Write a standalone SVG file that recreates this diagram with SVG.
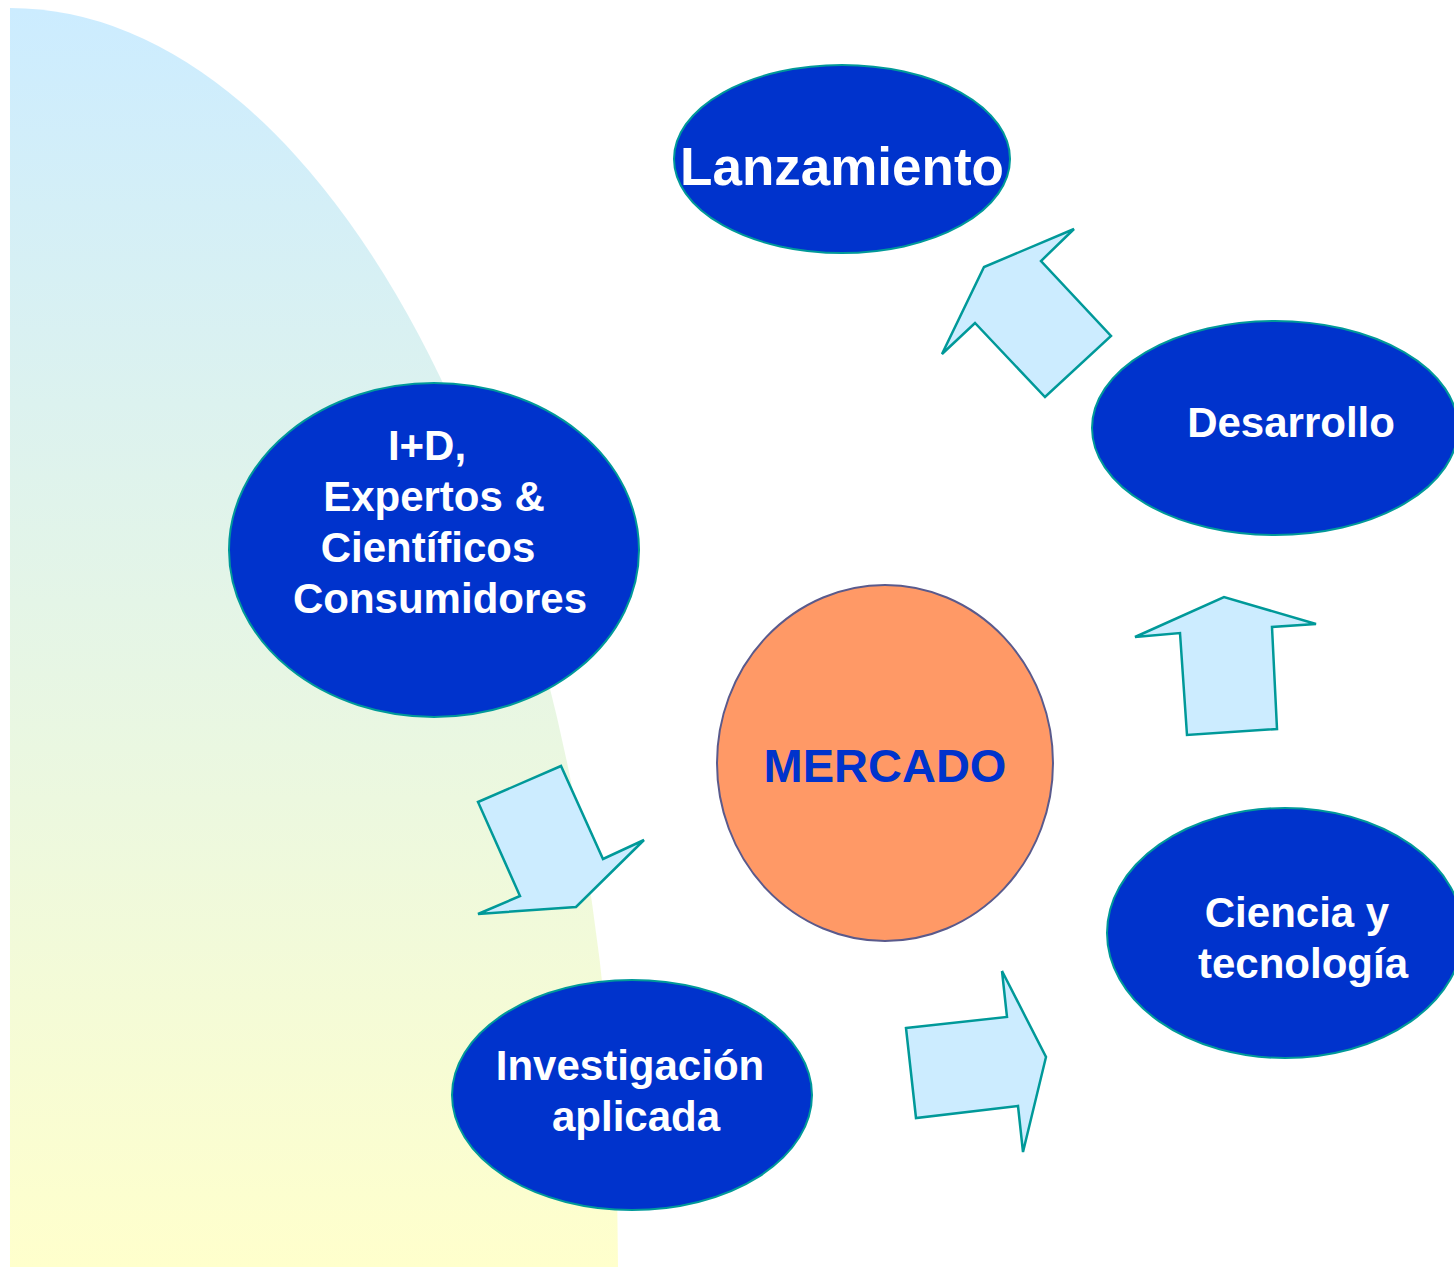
<svg xmlns="http://www.w3.org/2000/svg" width="1454" height="1267" viewBox="0 0 1454 1267">
<defs>
<linearGradient id="bg" x1="0" y1="0" x2="0" y2="1">
<stop offset="0" stop-color="#CCECFF"/>
<stop offset="1" stop-color="#FFFFCC"/>
</linearGradient>
<style>
.node{fill:#0033CC;stroke:#009999;stroke-width:2}
.lbl{font-family:"Liberation Sans",Arial,sans-serif;font-weight:bold;fill:#FFFFFF;text-anchor:middle}
.arrow{fill:#CCECFF;stroke:#009999;stroke-width:2.5;stroke-linejoin:miter}
</style>
</defs>
<rect width="1454" height="1267" fill="#FFFFFF"/>
<path d="M10,8 A608,1259 0 0 1 618,1267 L10,1267 Z" fill="url(#bg)"/>
<g id="connectors">
<polygon class="arrow" points="942,354 975,323 1045,397 1111,336 1041,261 1074,229 984,267"/>
<polygon class="arrow" points="1135,637 1180,633 1187,735 1277,729 1272,627 1316,624 1224,597"/>
<polygon class="arrow" points="478,802 561,766 603,859 644,840 576,907 478,914 520,896"/>
<polygon class="arrow" points="906,1028 1007,1017 1002,971 1046,1057 1023,1152 1018,1106 916,1118"/>
</g>
<g id="lanzamiento">
<ellipse class="node" cx="842" cy="159" rx="168" ry="94"/>
<text class="lbl" x="842" y="185" font-size="53">Lanzamiento</text>
</g>
<g id="desarrollo">
<ellipse class="node" cx="1275" cy="428" rx="183" ry="107"/>
<text class="lbl" x="1291" y="437" font-size="42">Desarrollo</text>
</g>
<g id="id-expertos">
<ellipse class="node" cx="434" cy="550" rx="205" ry="167"/>
<text class="lbl" font-size="42"><tspan x="427" y="460">I+D,</tspan><tspan x="434" y="511">Expertos &amp;</tspan><tspan x="428" y="562">Científicos</tspan><tspan x="440" y="613">Consumidores</tspan></text>
</g>
<g id="mercado">
<ellipse cx="885" cy="763" rx="168" ry="178" fill="#FF9966" stroke="#5A5A8C" stroke-width="2"/>
<text x="885" y="782" font-size="47" font-family="Liberation Sans,Arial,sans-serif" font-weight="bold" fill="#0033CC" text-anchor="middle">MERCADO</text>
</g>
<g id="ciencia">
<ellipse class="node" cx="1285" cy="933" rx="178" ry="125"/>
<text class="lbl" font-size="42"><tspan x="1297" y="927">Ciencia y</tspan><tspan x="1303" y="978">tecnología</tspan></text>
</g>
<g id="investigacion">
<ellipse class="node" cx="632" cy="1095" rx="180" ry="115"/>
<text class="lbl" font-size="42"><tspan x="630" y="1080">Investigación</tspan><tspan x="636" y="1131">aplicada</tspan></text>
</g>
</svg>
